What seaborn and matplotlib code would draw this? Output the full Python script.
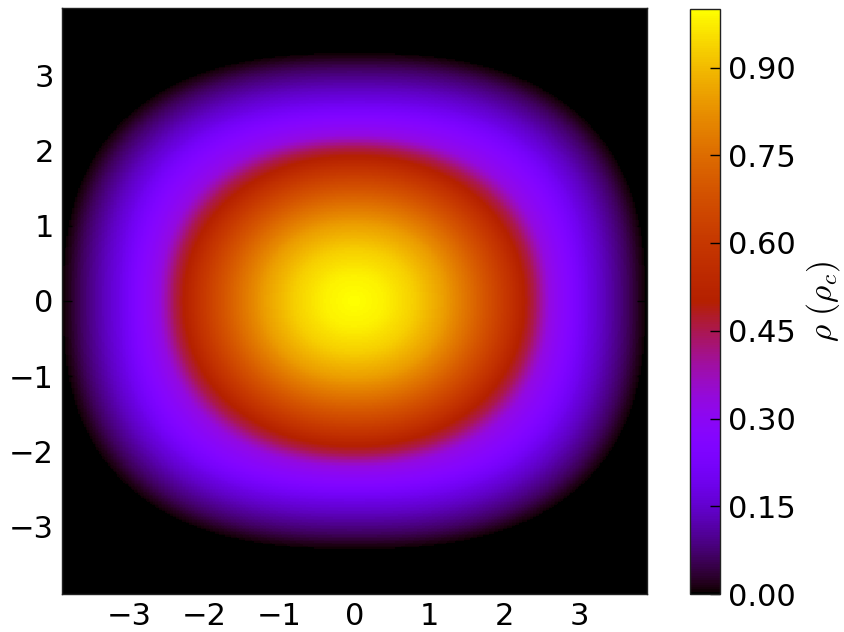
import numpy as np
import pandas as pd
import matplotlib
matplotlib.use("Agg")
import matplotlib.pyplot as plt
import seaborn as sns

# Density profile along the equatorial (x) axis, in units of the central density
r_major = [0.0, 0.4, 0.8, 1.2, 1.55, 1.9, 2.1, 2.27, 2.4, 2.6, 2.87, 3.13,
           3.39, 3.65, 3.8, 3.9]
rho_major = [1.00, 0.98, 0.93, 0.85, 0.75, 0.64, 0.57, 0.50, 0.45, 0.33, 0.26,
             0.18, 0.12, 0.06, 0.02, 0.0]

# Shape of the iso-density surfaces: polar/equatorial axis ratio and
# superellipse exponents for the core and for the outer envelope
axis_ratio = 0.85
exponent_core = 2.1
exponent_envelope = 2.55
core_edge = [2.3, 3.2]   # radii over which the surfaces change from core to envelope shape

extent = 3.9
n_cells = 390
tick_values = [-3, -2, -1, 0, 1, 2, 3]
cbar_ticks = [0.00, 0.15, 0.30, 0.45, 0.60, 0.75, 0.90]


def superellipse_radius(x, y, p):
    return (np.abs(x) ** p + np.abs(y / axis_ratio) ** p) ** (1 / p)


# Build the density map on a regular grid (rows ordered from top to bottom)
cell = 2 * extent / n_cells
xc = -extent + cell * (np.arange(n_cells) + 0.5)
yc = extent - cell * (np.arange(n_cells) + 0.5)
X, Y = np.meshgrid(xc, yc)
s_core = superellipse_radius(X, Y, exponent_core)
s_env = superellipse_radius(X, Y, exponent_envelope)
w = np.clip((s_core - core_edge[0]) / (core_edge[1] - core_edge[0]), 0, 1)
s = s_core * (1 - w) + s_env * w
rho = np.interp(s, r_major, rho_major, right=0.0)
density = pd.DataFrame(rho, index=np.round(yc, 3), columns=np.round(xc, 3))

fig = plt.figure(figsize=(8.45, 6.32), dpi=100)
ax = fig.add_axes([62 / 845, 38 / 632, 585 / 845, 586 / 632])
cax = fig.add_axes([690 / 845, 38 / 632, 30 / 845, 585 / 632])

sns.heatmap(density, ax=ax, cbar_ax=cax, cmap="gnuplot", vmin=0.0, vmax=1.0,
            xticklabels=False, yticklabels=False, rasterized=True)

for sp in ax.spines.values():
    sp.set_visible(True)
    sp.set_color("#222222")
    sp.set_linewidth(1.0)

ax.set_xticks([(v + extent) / cell for v in tick_values])
ax.set_xticklabels([f"{v}".replace("-", "\u2212") for v in tick_values])
ax.set_yticks([(extent - v) / cell for v in tick_values])
ax.set_yticklabels([f"{v}".replace("-", "\u2212") for v in tick_values], rotation=0)
ax.tick_params(direction="in", length=7, width=1, colors="black", labelsize=22,
               top=True, right=True, pad=6)
ax.set_xlabel("")
ax.set_ylabel("")

cbar = ax.collections[0].colorbar
cbar.set_ticks(cbar_ticks)
cbar.set_ticklabels([f"{t:.2f}" for t in cbar_ticks])
cbar.ax.tick_params(direction="in", length=7, width=1, labelsize=22, pad=6)
cbar.outline.set_visible(True)
cbar.outline.set_edgecolor("#222222")
cbar.outline.set_linewidth(1.0)
cbar.set_label(r"$\rho\ (\rho_c)$", fontsize=24, labelpad=6)
cbar.ax.yaxis.label.set_math_fontfamily("cm")

fig.savefig("out.png", dpi=100)
